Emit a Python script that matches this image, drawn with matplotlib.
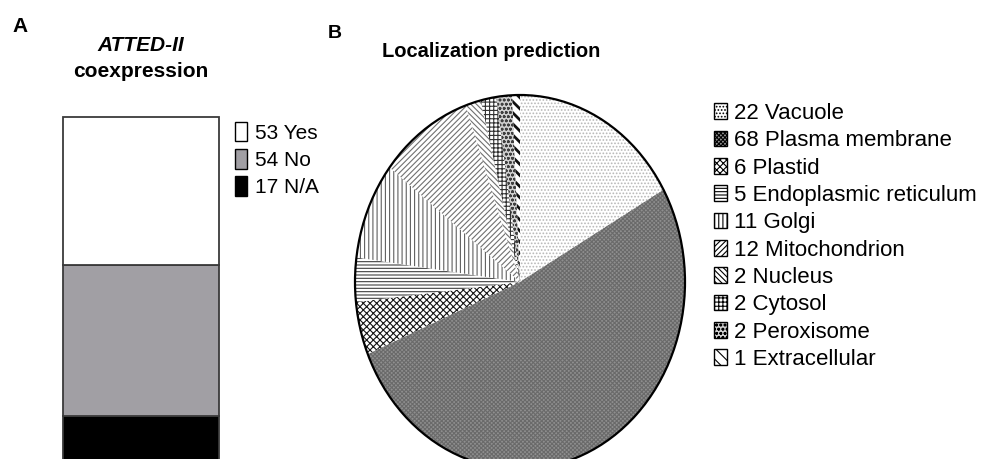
import matplotlib
matplotlib.use('Agg')
import matplotlib.pyplot as plt
from matplotlib.patches import Patch, Ellipse

plt.rcParams['font.family'] = ['Liberation Sans', 'DejaVu Sans']
plt.rcParams['hatch.linewidth'] = 0.8

# panel A: ATTED-II coexpression
coex_labels = ['Yes', 'No', 'N/A']
coex_counts = [53, 54, 17]
coex_colors = ['white', '#a19fa4', 'black']

# panel B: localization prediction
loc_labels = ['Vacuole', 'Plasma membrane', 'Plastid', 'Endoplasmic reticulum', 'Golgi',
              'Mitochondrion', 'Nucleus', 'Cytosol', 'Peroxisome', 'Extracellular']
loc_counts = [22, 68, 6, 5, 11, 12, 2, 2, 2, 1]

# fill styles (face, hatch colour, hatch) for the black and white print look
loc_faces = ['white', '#8f8f8f', 'white', 'white', 'white',
             'white', 'white', 'white', '#d0d0d0', 'white']
loc_hatch_colors = ['#b8b8b8', '#6a6a6a', '#151515', '#404040', '#606060',
                    '#707070', '#707070', '#303030', '#404040', '#101010']
loc_hatches = ['.....', 'xxxxxxxx', 'xxxxx', '-----', '||||',
               '//////', '\\\\\\\\\\\\', '++++', 'oooo', '\\\\\\']

W, H = 983, 459
fig = plt.figure(figsize=(W / 100, H / 100), dpi=100)


def fx(px):
    return px / W


def fy(py):
    return 1 - py / H


# --- panel A: stacked bar ---
axA = fig.add_axes([fx(63), -4 / H, 156 / W, 346 / H])
bottom = 0
for n, c in zip(coex_counts[::-1], coex_colors[::-1]):
    axA.bar(0, n, width=1, bottom=bottom, color=c, edgecolor='#3a3a3a',
            linewidth=1.3, clip_on=False)
    bottom += n
axA.set_xlim(-0.5, 0.5)
axA.set_ylim(0, sum(coex_counts))
axA.axis('off')

handlesA = [Patch(facecolor=c, edgecolor='black', linewidth=1) for c in coex_colors]
labelsA = [f'{n} {lab}' for n, lab in zip(coex_counts, coex_labels)]
fig.legend(handlesA, labelsA, loc='upper left', bbox_to_anchor=(fx(235), fy(122)),
           frameon=False, fontsize=15, handlelength=0.58, handleheight=1.06,
           handletextpad=0.38, labelspacing=0.3, borderpad=0, borderaxespad=0)

fig.text(fx(12), fy(32), 'A', fontsize=15, fontweight='bold', va='baseline')
fig.text(fx(141), fy(51), 'ATTED-II', fontsize=15, fontweight='bold',
         fontstyle='italic', ha='center', va='baseline')
fig.text(fx(141), fy(77), 'coexpression', fontsize=15, fontweight='bold',
         ha='center', va='baseline')

# --- panel B: elliptical pie ---
rx, ry, cx, cy = 165, 187, 520, 282
pad = 1.05
axB = fig.add_axes([fx(cx - rx * pad), (H - cy - ry * pad) / H,
                    2 * rx * pad / W, 2 * ry * pad / H])
wedges, _ = axB.pie(loc_counts, startangle=90, counterclock=False, radius=1,
                    wedgeprops=dict(linewidth=0))
for w, fc, hc, ht in zip(wedges, loc_faces, loc_hatch_colors, loc_hatches):
    w.set_facecolor(fc)
    w.set_edgecolor(hc)
    w.set_hatch(ht)
    w.set_linewidth(0)
# thicker strokes for the extracellular slice
if hasattr(wedges[-1], 'set_hatch_linewidth'):
    wedges[-1].set_hatch_linewidth(2.0)
axB.set_aspect('auto')
axB.set_xlim(-pad, pad)
axB.set_ylim(-pad, pad)
axB.add_patch(Ellipse((0, 0), 2, 2, fill=False, linewidth=1.6, edgecolor='black'))
axB.axis('off')

handlesB = [Patch(facecolor=fc, edgecolor='black', hatch=ht, linewidth=1)
            for fc, ht in zip(loc_faces, loc_hatches)]
labelsB = [f'{n} {lab}' for n, lab in zip(loc_counts, loc_labels)]
fig.legend(handlesB, labelsB, loc='upper left', bbox_to_anchor=(fx(714), fy(103)),
           frameon=False, fontsize=16, handlelength=0.59, handleheight=0.72,
           handletextpad=0.32, labelspacing=0.285, borderpad=0, borderaxespad=0)

fig.text(fx(328), fy(38), 'B', fontsize=14, fontweight='bold', va='baseline')
fig.text(fx(382), fy(57), 'Localization prediction', fontsize=14.5,
         fontweight='bold', va='baseline')

fig.savefig('out.png', dpi=100)
